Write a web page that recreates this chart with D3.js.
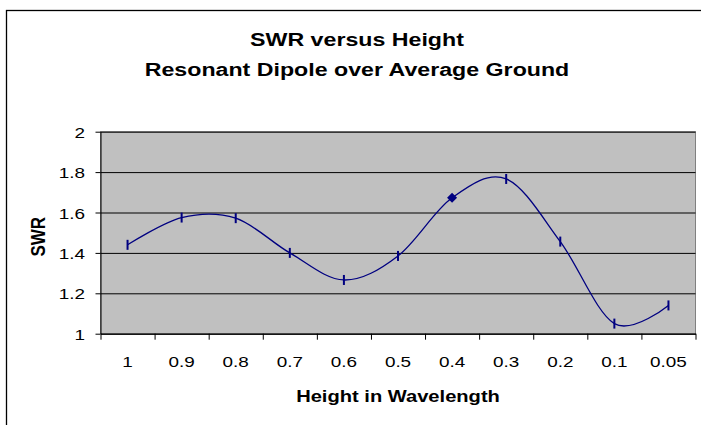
<!DOCTYPE html>
<html><head><meta charset="utf-8">
<script src="https://cdn.jsdelivr.net/npm/d3@7"></script>
<style>
body{margin:0;background:#fff}
svg{display:block}
text{font-family:"Liberation Sans",Arial,Helvetica,sans-serif;fill:#000}
</style>
</head><body><svg id="c" width="701" height="425"></svg>
<script>
// ---- data ----
const categories = ["1","0.9","0.8","0.7","0.6","0.5","0.4","0.3","0.2","0.1","0.05"];
const swrValues  = [1.44, 1.575, 1.572, 1.40, 1.266, 1.385, 1.673, 1.766, 1.456, 1.05, 1.14];
const markerShapes = ["bar","bar","bar","bar","bar","bar","diamond","bar","bar","bar","bar"];
const yTickValues = [1, 1.2, 1.4, 1.6, 1.8, 2];
const titleLines = ["SWR versus Height", "Resonant Dipole over Average Ground"];
const xTitle = "Height in Wavelength";
const yTitle = "SWR";

// ---- layout ----
const SX = 1.22; // horizontal stretch of the reference text
const plot = {left:100.5, right:695.5, top:131.7, bottom:333.7};
const svg = d3.select("#c");

const x = d3.scaleBand().domain(categories).range([plot.left, plot.right]);
const xEdge = d3.scaleLinear().domain([0, categories.length]).range([plot.left, plot.right]);
const y = d3.scaleLinear().domain([1, 2]).range([plot.bottom, plot.top]);

svg.append("rect").attr("width",701).attr("height",425).attr("fill","#fff");
// chart area border
svg.append("rect").attr("x",6.5).attr("y",10.5).attr("width",720).attr("height",440)
  .attr("fill","none").attr("stroke","#000").attr("stroke-width",1.3);

// plot area
svg.append("rect").attr("x",plot.left).attr("y",plot.top)
  .attr("width",plot.right-plot.left).attr("height",plot.bottom-plot.top)
  .attr("fill","#c0c0c0").attr("stroke","#808080").attr("stroke-width",1);

// gridlines
svg.append("g").attr("transform",`translate(${plot.left},0)`)
  .call(d3.axisLeft(y).tickValues(yTickValues.slice(1)).tickSize(-(plot.right-plot.left)).tickSizeOuter(0).tickFormat(""))
  .call(g=>g.select(".domain").remove())
  .call(g=>g.selectAll("line").attr("stroke","#000").attr("stroke-width",1));

// y axis
const yAxis = svg.append("g").attr("transform",`translate(${plot.left},0)`)
  .call(d3.axisLeft(y).tickValues(yTickValues).tickSize(5).tickSizeOuter(0).tickFormat(d3.format("")))
  .attr("font-family",null).attr("font-size",null);
yAxis.selectAll("line").attr("stroke","#000");
yAxis.select(".domain").attr("stroke","#000");
yAxis.selectAll("text").attr("font-size",15.5).attr("text-anchor","end")
  .attr("x",-15.5/SX).attr("dy",null).attr("y",5.6).attr("transform",`scale(${SX},1)`);

// x axis labels
const xAxis = svg.append("g").attr("transform",`translate(0,${plot.bottom})`)
  .call(d3.axisBottom(x).tickSize(0).tickSizeOuter(0).tickPadding(0))
  .attr("font-family",null).attr("font-size",null);
xAxis.select(".domain").attr("stroke","#000");
xAxis.selectAll("text").attr("font-size",15.5).attr("dy",null)
  .attr("y",367.3-plot.bottom).attr("transform",`scale(${SX},1)`);

// x tick marks at category boundaries
svg.append("g").attr("transform",`translate(0,${plot.bottom})`)
  .call(d3.axisBottom(xEdge).tickValues(d3.range(categories.length+1)).tickSize(6).tickSizeOuter(0).tickFormat(""))
  .call(g=>g.selectAll("line,path").attr("stroke","#000"));

// series
const cx = (d,i)=> x(categories[i]) + x.bandwidth()/2;
const line = d3.line().x(cx).y(d=>y(d)).curve(d3.curveCardinal.tension(0));
svg.append("path").datum(swrValues).attr("d",line)
  .attr("fill","none").attr("stroke","#000080").attr("stroke-width",1.3);

const markers = svg.append("g").selectAll("g").data(swrValues).join("g")
  .attr("transform",(d,i)=>`translate(${cx(d,i)},${y(d)})`);
markers.filter((d,i)=>markerShapes[i]==="bar").append("rect")
  .attr("x",-1).attr("y",-5).attr("width",2).attr("height",10).attr("fill","#000080");
markers.filter((d,i)=>markerShapes[i]==="diamond").append("path")
  .attr("d",d3.symbol().type(d3.symbolSquare).size(50)).attr("transform","rotate(45)")
  .attr("fill","#000080");

// titles
svg.append("g").selectAll("text").data(titleLines).join("text")
  .attr("transform",(d,i)=>`translate(357,${45.7+i*30}) scale(${SX},1)`)
  .attr("text-anchor","middle").attr("font-weight","bold").attr("font-size",19)
  .text(d=>d);

svg.append("text")
  .attr("transform",`translate(${(plot.left+plot.right)/2},401.5) scale(${SX},1)`)
  .attr("text-anchor","middle").attr("font-weight","bold").attr("font-size",16.5)
  .text(xTitle);

svg.append("text")
  .attr("transform",`translate(37.5,236.7) scale(${SX},1) rotate(-90)`)
  .attr("text-anchor","middle").attr("font-weight","bold").attr("font-size",17)
  .attr("y",6)
  .text(yTitle);
</script>
</body></html>
